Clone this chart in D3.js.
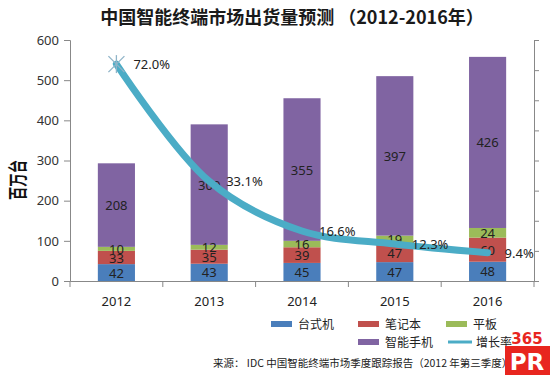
<!DOCTYPE html>
<html><head><meta charset="utf-8">
<script src="https://cdn.jsdelivr.net/npm/d3@7"></script>
<style>body{margin:0;background:#fff}svg{display:block}</style>
</head><body>
<svg id="c" width="550" height="375"></svg>
<script>
const years = ["2012","2013","2014","2015","2016"];
const seriesNames = ["台式机","笔记本","平板","智能手机"];
const desktop = [42,43,45,47,48];
const notebook = [33,35,39,47,60];
const tablet = [10,12,16,19,24];
const smartphone = [208,300,355,397,426];
const growth = [72.0,33.1,16.6,12.3,9.4];
const yTicks = [0,100,200,300,400,500,600];
const y2Ticks = [0,10,20,30,40,50,60,70,80];
const colors = ["#4a7ebb","#c0504d","#9bbb59","#8064a2"];
const lineColor = "#4bacc6";

const svg = d3.select("#c");
const fontLat = "'Noto Sans', 'Noto Sans CJK SC', sans-serif";
const fontCJK = "'Noto Sans CJK SC', sans-serif";
const L = 70, R = 534, T = 40, B = 281;

svg.append("text").attr("x",292).attr("y",24).attr("text-anchor","middle")
  .attr("font-family",fontCJK).attr("font-weight","bold").attr("font-size",18).attr("fill","#1a1a1a")
  .text("中国智能终端市场出货量预测 （2012-2016年）");

const x = d3.scaleBand().domain(years).range([L,R]).paddingInner(0.6).paddingOuter(0.3);
const xb = d3.scaleBand().domain(years).range([L,R]);
const y = d3.scaleLinear().domain([0,600]).range([B,T]);
const y2 = d3.scaleLinear().domain([0,80]).range([B,T]);

// stacks
const rows = years.map((yr,i)=>({year:yr, s0:desktop[i], s1:notebook[i], s2:tablet[i], s3:smartphone[i]}));
const stack = d3.stack().keys(["s0","s1","s2","s3"])(rows);
stack.forEach((layer,k)=>{
  svg.append("g").selectAll("rect").data(layer).join("rect")
    .attr("x",d=>x(d.data.year)).attr("width",x.bandwidth())
    .attr("y",d=>y(d[1])).attr("height",d=>y(d[0])-y(d[1]))
    .attr("fill",colors[k]);
});
stack.forEach((layer,k)=>{
  svg.append("g").selectAll("text").data(layer).join("text")
    .attr("x",d=>x(d.data.year)+x.bandwidth()/2)
    .attr("y",d=>y((d[0]+d[1])/2)+5)
    .attr("text-anchor","middle").attr("font-family",fontLat).attr("font-size",13).attr("fill","#222")
    .text(d=>d[1]-d[0]);
});

// axes
const ay = svg.append("g").attr("transform",`translate(${L},0)`)
  .call(d3.axisLeft(y).tickValues(yTicks).tickSize(6).tickPadding(5));
ay.selectAll("text").attr("font-family",fontLat).attr("font-size",13).attr("fill","#333");
const ay2 = svg.append("g").attr("transform",`translate(${R},0)`)
  .call(d3.axisRight(y2).tickValues(y2Ticks).tickSize(5).tickFormat(""));
const ax = svg.append("g").attr("transform",`translate(0,${B})`)
  .call(d3.axisBottom(xb).tickSize(0).tickPadding(16));
ax.selectAll("text").attr("font-family",fontLat).attr("font-size",13).attr("fill","#222");
ax.append("g").selectAll("line").data(years.concat(["end"])).join("line")
  .attr("x1",(d,i)=>L+i*xb.bandwidth()).attr("x2",(d,i)=>L+i*xb.bandwidth())
  .attr("y1",0).attr("y2",6).attr("stroke","#888");
[ay,ay2,ax].forEach(g=>{g.selectAll("path,line").attr("stroke","#888");});

svg.append("text").attr("transform","translate(25,180) rotate(-90)").attr("text-anchor","middle")
  .attr("font-family",fontCJK).attr("font-weight","bold").attr("font-size",19)
  .attr("textLength",40).attr("lengthAdjust","spacingAndGlyphs").attr("fill","#111").text("百万台");

// growth line
const cx = d=>x(d)+x.bandwidth()/2;
const line = d3.line().x((d,i)=>cx(years[i])).y(d=>y2(d)).curve(d3.curveCatmullRom.alpha(0.5));
svg.append("path").datum(growth).attr("d",line).attr("fill","none")
  .attr("stroke",lineColor).attr("stroke-width",7).attr("stroke-linecap","round");
// marker on first point
const m = [cx(years[0]), y2(growth[0])];
svg.append("g").attr("transform",`translate(${m[0]},${m[1]})`).selectAll("line")
  .data([[-8,-8,8,8],[-8,8,8,-8],[0,-9,0,9]]).join("line")
  .attr("x1",d=>d[0]).attr("y1",d=>d[1]).attr("x2",d=>d[2]).attr("y2",d=>d[3])
  .attr("stroke","#8fb4c8").attr("stroke-width",1.3);
svg.append("g").selectAll("text").data(growth).join("text")
  .attr("x",(d,i)=>cx(years[i])+17).attr("y",d=>y2(d)+5)
  .attr("font-family",fontLat).attr("font-size",13).attr("fill","#222")
  .text(d=>d.toFixed(1)+"%");

// legend
const legend = [
  {name:seriesNames[0], c:colors[0], x:271, y:324, t:"rect"},
  {name:seriesNames[1], c:colors[1], x:358, y:324, t:"rect"},
  {name:seriesNames[2], c:colors[2], x:446, y:324, t:"rect"},
  {name:seriesNames[3], c:colors[3], x:358, y:342, t:"rect"},
  {name:"增长率", c:lineColor, x:448, y:342, t:"line"}
];
legend.forEach(l=>{
  if(l.t==="rect") svg.append("rect").attr("x",l.x).attr("y",l.y-3).attr("width",21).attr("height",6).attr("fill",l.c);
  else svg.append("line").attr("x1",l.x).attr("x2",l.x+24).attr("y1",l.y).attr("y2",l.y).attr("stroke",l.c).attr("stroke-width",3);
  svg.append("text").attr("x",l.x+(l.t==="rect"?27:28)).attr("y",l.y+4.5)
    .attr("font-family",fontCJK).attr("font-size",12).attr("fill","#222").text(l.name);
});
svg.append("text").attr("x",213).attr("y",367).attr("font-family",fontCJK).attr("font-size",10.5).attr("fill","#222")
  .text("来源： IDC 中国智能终端市场季度跟踪报告（2012 年第三季度）");

// watermark logo
svg.append("rect").attr("x",505).attr("y",346).attr("width",45).attr("height",29).attr("fill","#e8261f");
svg.append("text").attr("x",527).attr("y",370).attr("text-anchor","middle").attr("font-family","'DejaVu Sans', sans-serif")
  .attr("font-weight","bold").attr("font-size",23).attr("fill","#fff").text("PR");
svg.append("text").attr("x",527).attr("y",344).attr("text-anchor","middle").attr("font-family","'DejaVu Sans', sans-serif")
  .attr("font-weight","bold").attr("font-size",15).attr("fill","#e8261f").text("365");
</script>
</body></html>
